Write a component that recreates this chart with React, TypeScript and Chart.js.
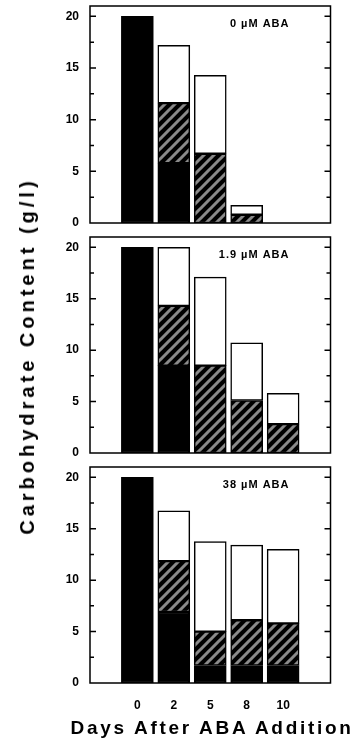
import React, { useEffect, useRef } from 'react';
import { Chart, registerables } from 'chart.js';
Chart.register(...registerables);

// ---- data ----
const dayLabels = ['0', '2', '5', '8', '10'];
const dayIndex = [0, 1, 2, 3, 4];
const yTickValues = [0, 5, 10, 15, 20];
const yMarkTicks = [2.5, 5, 7.5, 10, 12.5, 15, 17.5, 20];

const title0 = '0 µM ABA';
const black0 = [20, 5.8, 0, 0, 0];
const hatch0 = [0, 5.8, 6.7, 0.8, 0];
const white0 = [0, 5.6, 7.6, 0.9, 0];

const title19 = '1.9 µM ABA';
const black19 = [20, 8.5, 0, 0, 0];
const hatch19 = [0, 5.8, 8.5, 5.1, 2.8];
const white19 = [0, 5.7, 8.6, 5.6, 3.0];

const title38 = '38 µM ABA';
const black38 = [20, 6.9, 1.7, 1.7, 1.7];
const hatch38 = [0, 4.95, 3.3, 4.4, 4.1];
const white38 = [0, 4.9, 8.75, 7.3, 7.2];

const yAxisTitle = 'Carbohydrate Content (g/l)';
const xAxisTitle = 'Days After ABA Addition';

const FAMILY = '"Liberation Sans", Arial, Helvetica, sans-serif';

function makeHatch(): CanvasPattern | string {
  const s = 10;
  const c = document.createElement('canvas');
  c.width = s;
  c.height = s;
  const g = c.getContext('2d');
  if (!g) return '#444';
  g.fillStyle = '#000';
  g.fillRect(0, 0, s, s);
  g.strokeStyle = '#8a8a8a';
  g.lineWidth = 3;
  g.beginPath();
  g.moveTo(0, s);
  g.lineTo(s, 0);
  g.moveTo(-s / 2, s / 2);
  g.lineTo(s / 2, -s / 2);
  g.moveTo(s / 2, s * 1.5);
  g.lineTo(s * 1.5, s / 2);
  g.stroke();
  return g.createPattern(c, 'repeat') || '#444';
}

type PanelProps = {
  top: number;
  height: number;
  padBottom: number;
  showX: boolean;
  title: string;
  black: number[];
  hatch: number[];
  white: number[];
};

function Panel({ top, height, padBottom, showX, title, black, hatch, white }: PanelProps) {
  const ref = useRef<HTMLCanvasElement | null>(null);
  useEffect(() => {
    if (!ref.current) return;
    const pattern = makeHatch();
    const toPts = (arr: number[]) => dayIndex.map((x, i) => ({ x, y: arr[i] ? arr[i] : null }));
    const common = {
      borderColor: '#000',
      borderWidth: 1.5,
      borderSkipped: false,
      barThickness: 32,
    };
    const framePlugin = {
      id: 'frame',
      afterDatasetsDraw(chart: any) {
        const { ctx, chartArea: a, scales } = chart;
        const y = scales.y;
        ctx.save();
        ctx.strokeStyle = '#000';
        ctx.lineWidth = 1.5;
        ctx.strokeRect(a.left, a.top, a.right - a.left, a.bottom - a.top);
        ctx.beginPath();
        for (const v of yMarkTicks) {
          const py = y.getPixelForValue(v);
          const len = v % 5 === 0 ? 6 : 4;
          ctx.moveTo(a.left, py);
          ctx.lineTo(a.left + len, py);
          ctx.moveTo(a.right, py);
          ctx.lineTo(a.right - len, py);
        }
        ctx.stroke();
        ctx.fillStyle = '#000';
        ctx.font = `bold 11px ${FAMILY}`;
        try { (ctx as any).letterSpacing = '1px'; } catch (e) {}
        ctx.textAlign = 'right';
        ctx.textBaseline = 'middle';
        ctx.fillText(title, a.right - 41, a.top + 18);
        ctx.restore();
      },
    };
    const chart = new Chart(ref.current, {
      type: 'bar',
      data: {
        datasets: [
          { label: 'black', data: toPts(black), backgroundColor: '#000', ...common },
          { label: 'hatch', data: toPts(hatch), backgroundColor: pattern, ...common },
          { label: 'white', data: toPts(white), backgroundColor: '#fff', ...common },
        ] as any,
      },
      options: {
        responsive: false,
        animation: false,
        devicePixelRatio: 1,
        layout: { padding: { left: 0, right: 24.5, top: 17, bottom: padBottom } },
        plugins: { legend: { display: false }, tooltip: { enabled: false } },
        scales: {
          x: {
            type: 'linear',
            stacked: true,
            min: -0.64,
            max: 4.64,
            display: showX,
            grid: { display: false, drawTicks: false },
            border: { display: false },
            afterBuildTicks: (s: any) => {
              s.ticks = dayIndex.map((v) => ({ value: v }));
            },
            afterFit: (s: any) => {
              s.height = showX ? 32 : 0;
            },
            ticks: {
              callback: (v: any) => dayLabels[v],
              font: { family: FAMILY, size: 12, weight: 'bold' },
              color: '#000',
              padding: 15,
              maxRotation: 0,
              autoSkip: false,
            },
          },
          y: {
            stacked: true,
            min: 0,
            max: 21,
            grid: { display: false, drawTicks: false },
            border: { display: false },
            afterBuildTicks: (s: any) => {
              s.ticks = yTickValues.map((v) => ({ value: v }));
            },
            afterFit: (s: any) => {
              s.width = 90;
            },
            ticks: {
              font: { family: FAMILY, size: 12, weight: 'bold', lineHeight: 1 },
              color: '#000',
              padding: 11,
            },
          },
        },
      } as any,
      plugins: [framePlugin],
    });
    return () => chart.destroy();
  }, []);
  return (
    <canvas
      ref={ref}
      width={355}
      height={height}
      style={{ position: 'absolute', left: 0, top, width: 355, height }}
    />
  );
}

export default function App() {
  return (
    <div
      style={{
        position: 'fixed',
        left: 0,
        top: 0,
        width: 355,
        height: 739,
        overflow: 'hidden',
        background: '#fff',
      }}
    >
      <Panel top={-11} height={251} padBottom={17} showX={false} title={title0} black={black0} hatch={hatch0} white={white0} />
      <Panel top={220} height={250} padBottom={17} showX={false} title={title19} black={black19} hatch={hatch19} white={white19} />
      <Panel top={450} height={265} padBottom={0} showX={true} title={title38} black={black38} hatch={hatch38} white={white38} />
      <div
        style={{
          position: 'absolute',
          left: 27,
          top: 356,
          transform: 'translate(-50%, -50%) rotate(-90deg)',
          whiteSpace: 'nowrap',
          fontFamily: FAMILY,
          fontWeight: 'bold',
          fontSize: 20,
          letterSpacing: '4px',
          color: '#000',
          lineHeight: 1,
        }}
      >
        {yAxisTitle}
      </div>
      <div
        style={{
          position: 'absolute',
          left: 212,
          top: 727,
          transform: 'translate(-50%, -50%)',
          whiteSpace: 'nowrap',
          fontFamily: FAMILY,
          fontWeight: 'bold',
          fontSize: 19,
          letterSpacing: '2.7px',
          color: '#000',
          lineHeight: 1,
        }}
      >
        {xAxisTitle}
      </div>
    </div>
  );
}
